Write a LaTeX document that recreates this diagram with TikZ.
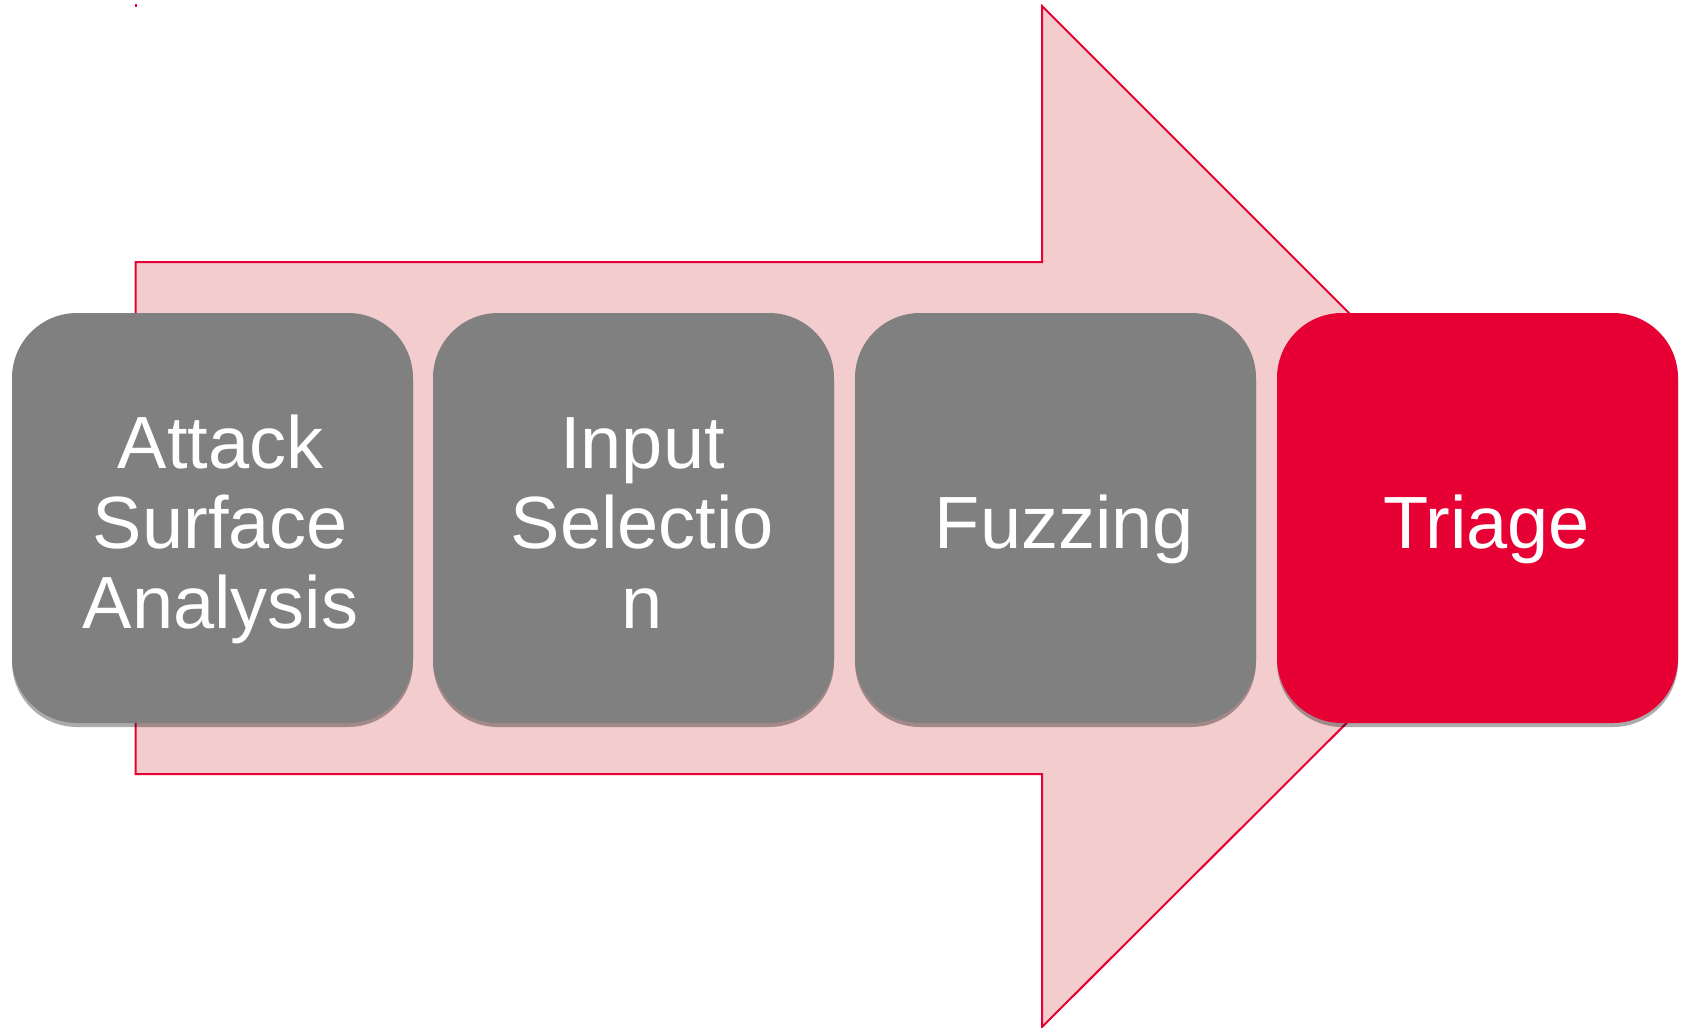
\documentclass[tikz,border=0pt]{standalone}
\usepackage{fontspec}
\setmainfont{Liberation Sans}
\definecolor{flowred}{HTML}{E60033}
\definecolor{flowpink}{HTML}{F3CCCD}
\definecolor{stepgray}{HTML}{808080}
\tikzset{
  stagebox/.style={rounded corners=65pt, minimum width=401pt, minimum height=410pt,
    inner sep=0pt, outer sep=0pt, draw=none},
  stageshadow/.style={rounded corners=65pt, fill=black, fill opacity=0.33, draw=none},
  stagetext/.style={text=white, anchor=base, inner sep=0pt,
    font=\fontsize{74}{80}\selectfont},
}
\begin{document}
\begin{tikzpicture}[x=1pt, y=-1pt]
\useasboundingbox (0,0) rectangle (1684,1028);

% big background arrow
\draw[draw=flowred, line width=2pt, fill=flowpink, line join=miter]
  (135.5,262) -- (1042,262) -- (1042,6) -- (1553,517) -- (1042,1027)
  -- (1042,774) -- (135.5,774) -- cycle;
\fill[flowred] (135.3,3.5) rectangle (136.7,6.5);

% drop shadows under the stages
\foreach \x in {12,433,855,1277}
  \fill[stageshadow] (\x,317) rectangle ++(401,410);

% stages
\node[stagebox, fill=stepgray, anchor=north west] (s1) at (12,313) {};
\node[stagebox, fill=stepgray, anchor=north west] (s2) at (433,313) {};
\node[stagebox, fill=stepgray, anchor=north west] (s3) at (855,313) {};
\node[stagebox, fill=flowred, anchor=north west] (s4) at (1277,313) {};

% labels (yshift is measured upwards on the canvas)
\node[stagetext] (s1a) at ([xshift=8pt, yshift=50pt]s1.center) {Attack};
\node[stagetext] (s1b) at ([xshift=8pt, yshift=-30pt]s1.center) {Surface};
\node[stagetext] (s1c) at ([xshift=8pt, yshift=-110pt]s1.center) {Analysis};

\node[stagetext] (s2a) at ([xshift=9pt, yshift=50pt]s2.center) {Input};
\node[stagetext] (s2b) at ([xshift=9pt, yshift=-30pt]s2.center) {Selectio};
\node[stagetext] (s2c) at ([xshift=9pt, yshift=-110pt]s2.center) {n};

\node[stagetext] (s3a) at ([xshift=9pt, yshift=-30pt]s3.center) {Fuzzing};
\node[stagetext] (s4a) at ([xshift=9pt, yshift=-30pt]s4.center) {Triage};
\end{tikzpicture}
\end{document}
